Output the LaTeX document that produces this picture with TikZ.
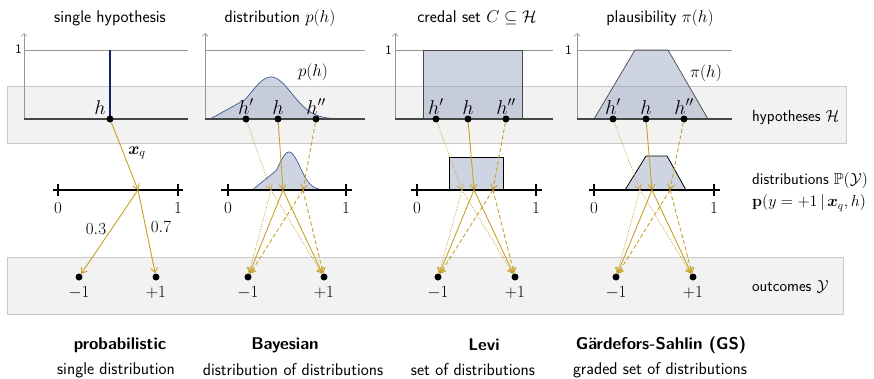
\RequirePackage{fix-cm}
\documentclass[tikz,border=0pt]{standalone}
\usepackage{amsmath,amssymb}
\usetikzlibrary{arrows.meta,positioning}
\definecolor{gold}{RGB}{201,160,40}
\definecolor{goldlt}{RGB}{208,175,85}
\definecolor{bandfill}{RGB}{242,242,242}
\definecolor{bandline}{RGB}{200,200,200}
\definecolor{shade}{RGB}{132,147,180}
\definecolor{curveblue}{RGB}{59,90,148}
\definecolor{navy}{RGB}{20,35,100}
\definecolor{axisgray}{RGB}{150,150,150}
\definecolor{edgegray}{RGB}{70,70,70}
\tikzset{
  band/.style={fill=bandfill, draw=bandline, line width=0.8pt},
  axisline/.style={draw=axisgray, line width=0.6pt, -{Straight Barb[length=3pt,width=6pt]}},
  oneline/.style={draw=axisgray, line width=0.6pt},
  onelab/.style={font=\sffamily\fontsize{13}{15}\selectfont, anchor=east},
  hbase/.style={draw=edgegray, line width=1.1pt},
  shapefill/.style={fill=shade, fill opacity=0.4},
  curveline/.style={draw=curveblue, line width=0.7pt},
  shapeedge/.style={draw=edgegray, line width=0.7pt},
  hbar/.style={draw=navy, line width=2.2pt},
  dot/.style={circle, fill=black, inner sep=0pt, minimum size=7pt},
  hlab/.style={font=\fontsize{20}{22}\selectfont},
  sidelab/.style={font=\sffamily\fontsize{16}{19}\selectfont, anchor=west},
  numline/.style={draw=black, line width=1.3pt},
  tick/.style={draw=black, line width=1.1pt},
  arrsolid/.style={draw=gold, line width=0.9pt, -{Straight Barb[length=5pt,width=7pt]}},
  arrdash/.style={arrsolid, dash pattern=on 4pt off 2.5pt},
  arrdot/.style={draw=goldlt, line width=0.9pt, dash pattern=on 1pt off 1.5pt, -{Straight Barb[length=5pt,width=7pt]}},
  boldlab/.style={font=\sffamily\bfseries\fontsize{17}{20}\selectfont},
  sublab/.style={font=\sffamily\fontsize{17}{20}\selectfont},
  declare function={
    topc(\x)=max(42*exp(-((\x-271)/29.4)*((\x-271)/29.4)), 0.55*(\x-210)*(\x<=245));
    midc(\x)=max(38*exp(-((\x-289)/15.5)*((\x-289)/15.5)), 0.8*(\x-252)*(\x<=276));
  }
}
\begin{document}
\begin{tikzpicture}[x=1pt,y=-1pt, every node/.style={font=\sffamily\fontsize{17}{20}\selectfont, inner sep=0pt}]
\useasboundingbox (0,0) rectangle (874,378);
% bands
\draw[band] (7,86) rectangle (846,143);
\draw[band] (7,257) rectangle (843,314);

% titles
\node (t1) at (110,18) {single hypothesis};
\node (t2) at (280,18) {distribution $p(h)$};
\node (t3) at (477,18) {credal set $C \subseteq \mathcal{H}$};
\node (t4) at (660,18) {plausibility $\pi(h)$};

% ---------- panel 1 top
\draw[axisline] (24,119) -- (24,33);
\draw[oneline] (24,50) -- (188,50);
\node[onelab] (one1) at (22,49) {1};
\draw[hbase] (24,119) -- (188,119);
\draw[hbar] (110,50) -- (110,119);
\node[dot] (h1) at (110,119) {};
\node[hlab] (lh1) at (100,108) {$h$};

% ---------- panel 2 top
\draw[axisline] (205,119) -- (205,33);
\draw[oneline] (205,50) -- (365,50);
\fill[shapefill] (210,119) -- plot[domain=210:332,samples=90] (\x,{119-topc(\x)}) -- cycle;
\draw[curveline] plot[domain=210:332,samples=90] (\x,{119-topc(\x)});
\draw[hbase] (205,119) -- (365,119);
\node (ph) at (313,72) {$p(h)$};
\node[dot] (h2a) at (246,119) {};
\node[dot] (h2b) at (278,119) {};
\node[dot] (h2c) at (316,119) {};
\node[hlab, above=1pt of h2a] (l2a) {$h'$};
\node[hlab, above=1pt of h2b] (l2b) {$h$};
\node[hlab, above=1pt of h2c] (l2c) {$h''$};

% ---------- panel 3 top
\draw[axisline] (395,119) -- (395,33);
\draw[oneline] (395,50) -- (553,50);
\node[onelab] (one3) at (392,50) {1};
\fill[shapefill] (423,50) rectangle (522,119);
\draw[shapeedge] (423,50) rectangle (522,119);
\draw[hbase] (395,119) -- (553,119);
\node[dot] (h3a) at (436,119) {};
\node[dot] (h3b) at (468,119) {};
\node[dot] (h3c) at (506,119) {};
\node[hlab, above=1pt of h3a] (l3a) {$h'$};
\node[hlab, above=1pt of h3b] (l3b) {$h$};
\node[hlab, above=1pt of h3c] (l3c) {$h''$};

% ---------- panel 4 top
\draw[axisline] (577,119) -- (577,33);
\draw[oneline] (577,50) -- (732,50);
\node[onelab] (one4) at (572,50) {1};
\fill[shapefill] (594,119) -- (635,50) -- (668,50) -- (708,119) -- cycle;
\draw[shapeedge] (594,119) -- (635,50) -- (668,50) -- (708,119);
\draw[hbase] (577,119) -- (732,119);
\node (pih) at (706,73) {$\pi(h)$};
\node[dot] (h4a) at (613,119) {};
\node[dot] (h4b) at (646,119) {};
\node[dot] (h4c) at (684,119) {};
\node[hlab, above=1pt of h4a] (l4a) {$h'$};
\node[hlab, above=1pt of h4b] (l4b) {$h$};
\node[hlab, above=1pt of h4c] (l4c) {$h''$};

% ---------- middle row shapes
\fill[shapefill] (252,190) -- plot[domain=252:326,samples=80] (\x,{190-midc(\x)}) -- cycle;
\draw[curveline] plot[domain=252:326,samples=80] (\x,{190-midc(\x)});
\fill[shapefill] (449,157) rectangle (503,190);
\draw[draw=black, line width=0.8pt] (449,190) -- (449,157) -- (503,157) -- (503,190);
\fill[shapefill] (625,190) -- (646,156) -- (667,156) -- (686,190) -- cycle;
\draw[draw=black, line width=0.8pt] (625,190) -- (646,156) -- (667,156) -- (686,190);

% number lines
\draw[numline] (53,190) -- (183,190);
\draw[tick] (58,184) -- (58,196); \draw[tick] (178,184) -- (178,196);
\node (z1) at (58,208) {$0$}; \node (u1) at (178,208) {$1$};
\draw[numline] (221,190) -- (352,190);
\draw[tick] (228,184) -- (228,196); \draw[tick] (346,184) -- (346,196);
\node (z2) at (228,208) {$0$}; \node (u2) at (346,208) {$1$};
\draw[numline] (411,190) -- (542,190);
\draw[tick] (417,184) -- (417,196); \draw[tick] (536,184) -- (536,196);
\node (z3) at (417,208) {$0$}; \node (u3) at (536,208) {$1$};
\draw[numline] (589,190) -- (720,190);
\draw[tick] (594,184) -- (594,196); \draw[tick] (714,184) -- (714,196);
\node (z4) at (594,208) {$0$}; \node (u4) at (714,208) {$1$};

% targets on number lines
\coordinate (m1) at (138,190);
\coordinate (m2a) at (271,190); \coordinate (m2b) at (283,190); \coordinate (m2c) at (303,190);
\coordinate (m3a) at (462,190); \coordinate (m3b) at (474,190); \coordinate (m3c) at (493,190);
\coordinate (m4a) at (640,190); \coordinate (m4b) at (652,190); \coordinate (m4c) at (670,190);

% outcomes
\node[dot] (o1m) at (79,277) {};  \node[dot] (o1p) at (156,277) {};
\node[dot] (o2m) at (248,277) {}; \node[dot] (o2p) at (324,277) {};
\node[dot] (o3m) at (438,277) {}; \node[dot] (o3p) at (515,277) {};
\node[dot] (o4m) at (616,277) {}; \node[dot] (o4p) at (693,277) {};
\foreach \o in {1,2,3,4}{
  \node[below=6pt of o\o m] (lo\o m) {$-1$};
  \node[below=6pt of o\o p] (lo\o p) {$+1$};
}

% ---------- arrows panel 1
\draw[arrsolid] (h1) -- (m1);
\node (xq) at (137,153) {$\boldsymbol{x}_q$};
\draw[arrsolid] (m1) -- (o1m);
\draw[arrsolid] (m1) -- (o1p);
\node (p03) at (96,229) {$0.3$};
\node (p07) at (161,227) {$0.7$};

% ---------- arrows panels 2-4
\foreach \p in {2,3,4}{
  \draw[arrdot] (h\p a) -- (m\p a);
  \draw[arrsolid] (h\p b) -- (m\p b);
  \draw[arrdash] (h\p c) -- (m\p c);
  \draw[arrdot] (m\p a) -- (o\p m);
  \draw[arrdot] (m\p a) -- (o\p p);
  \draw[arrsolid] (m\p b) -- (o\p m);
  \draw[arrsolid] (m\p b) -- (o\p p);
  \draw[arrdash] (m\p c) -- (o\p m);
  \draw[arrdash] (m\p c) -- (o\p p);
}

% ---------- right labels
\node[sidelab] (lhyp) at (752,118) {hypotheses $\mathcal{H}$};
\node[sidelab] (ldist) at (752,180) {distributions $\mathbb{P}(\mathcal{Y})$};
\node[sidelab] (lcond) at (752,203) {$\mathbf{p}(y=+1\,|\,\boldsymbol{x}_q,h)$};
\node[sidelab] (lout) at (752,287) {outcomes $\mathcal{Y}$};

% ---------- bottom labels
\node[boldlab] (b1) at (120,345) {probabilistic};
\node[sublab] (s1) at (116,370) {single distribution};
\node[boldlab] (b2) at (285,345) {Bayesian};
\node[sublab] (s2) at (293,370) {distribution of distributions};
\node[boldlab] (b3) at (484,345) {Levi};
\node[sublab] (s3) at (473,370) {set of distributions};
\node[boldlab] (b4) at (661,345) {G\"ardefors-Sahlin (GS)};
\node[sublab] (s4) at (660,370) {graded set of distributions};
\end{tikzpicture}
\end{document}
